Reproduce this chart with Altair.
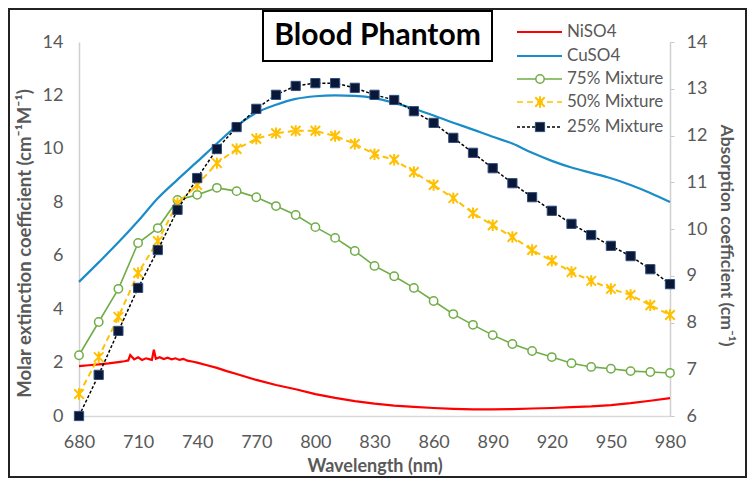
import altair as alt
import pandas as pd

# ---------------- data ----------------
wl = list(range(680, 990, 10))

ni_wl = [680, 685, 690, 695, 700, 703, 705, 706, 708, 710, 712, 714, 716, 717, 718, 719,
         721, 723, 725, 727, 729, 731, 733, 735, 738, 740, 745, 750, 755, 760, 770, 780,
         790, 800, 810, 820, 830, 840, 850, 860, 870, 880, 890, 900, 910, 920, 930, 940,
         950, 960, 970, 980]
ni_val = [1.87, 1.90, 1.93, 1.97, 2.02, 2.05, 2.08, 2.28, 2.12, 2.20, 2.10, 2.16, 2.12, 2.10,
          2.48, 2.14, 2.20, 2.13, 2.18, 2.12, 2.16, 2.10, 2.14, 2.07, 2.03, 2.00, 1.90, 1.80,
          1.68, 1.57, 1.35, 1.16, 1.00, 0.82, 0.68, 0.56, 0.46, 0.39, 0.34, 0.30, 0.27, 0.25,
          0.25, 0.26, 0.28, 0.30, 0.33, 0.36, 0.41, 0.48, 0.57, 0.67]

cu_val = [5.02, 5.75, 6.50, 7.30, 8.15, 8.85, 9.52, 10.20, 10.85, 11.35, 11.65, 11.87, 11.97,
          12.00, 11.98, 11.90, 11.72, 11.50, 11.25, 10.98, 10.72, 10.45, 10.20, 9.85, 9.55,
          9.30, 9.10, 8.90, 8.65, 8.35, 8.01]

m75 = [7.30, 8.01, 8.72, 9.70, 10.02, 10.62, 10.73, 10.88, 10.81, 10.68, 10.49, 10.30,
       10.04, 9.81, 9.53, 9.21, 8.99, 8.74, 8.46, 8.18, 7.95, 7.73,
       7.54, 7.39, 7.26, 7.13, 7.05, 7.01, 6.96, 6.94, 6.92]
m50 = [6.47, 7.26, 8.12, 9.06, 9.74, 10.55, 10.94, 11.41, 11.71, 11.93, 12.05, 12.10,
       12.10, 11.99, 11.82, 11.60, 11.48, 11.22, 10.94, 10.66, 10.34, 10.08,
       9.83, 9.55, 9.32, 9.08, 8.89, 8.72, 8.59, 8.37, 8.16]
m25 = [6.00, 6.88, 7.82, 8.74, 9.55, 10.41, 11.09, 11.71, 12.18, 12.57, 12.87, 13.06,
       13.12, 13.12, 13.02, 12.87, 12.76, 12.52, 12.27, 11.95, 11.63, 11.30,
       10.98, 10.68, 10.39, 10.11, 9.87, 9.64, 9.42, 9.14, 8.82]

x_ticks = [680, 710, 740, 770, 800, 830, 860, 890, 920, 950, 980]
left_ticks = [0, 2, 4, 6, 8, 10, 12, 14]
right_ticks = [6, 7, 8, 9, 10, 11, 12, 13, 14]

series_names = ["NiSO4", "CuSO4", "75% Mixture", "50% Mixture", "25% Mixture"]
title_text = "Blood Phantom"

# ---------------- styling ----------------
FONT = "Lato"
GRAY = "#595959"
RED = "#ff0000"
BLUE = "#1a8cc8"
GREEN = "#70ad47"
YELLOW = "#ffc000"
NAVY = "#0b1736"
STAR = "M-1,-1L1,1M-1,1L1,-1M0,-1.2L0,1.2"

W, H = 591, 374

ni_df = pd.DataFrame({"wl": ni_wl, "v": ni_val})
cu_df = pd.DataFrame({"wl": wl, "v": cu_val})
mix_df = pd.DataFrame({"wl": wl, "m75": m75, "m50": m50, "m25": m25})
one = pd.DataFrame({"a": [0]})

xenc = alt.X("wl:Q",
             scale=alt.Scale(domain=[680, 980], nice=False, zero=False),
             axis=alt.Axis(values=x_ticks, grid=False, ticks=False, tickSize=0,
                           labelFlush=False, labelOverlap=False,
                           domainColor="#d9d9d9", domainWidth=1.5,
                           labelColor=GRAY, labelFontSize=18, labelFont=FONT,
                           labelPadding=17,
                           title="Wavelength (nm)", titleFont=FONT, titleFontSize=18,
                           titleFontWeight="bold", titleColor=GRAY, titlePadding=6))

yleft = alt.Y("v:Q",
              scale=alt.Scale(domain=[0, 14], nice=False),
              axis=alt.Axis(values=left_ticks, grid=False, ticks=False, tickSize=0,
                            labelFlush=False, labelOverlap=False,
                            domainColor="#d0d0d0", domainWidth=1.5,
                            labelColor=GRAY, labelFontSize=18, labelFont=FONT,
                            labelPadding=16,
                            title="Molar extinction coefficient (cm⁻¹M⁻¹)",
                            titleFont=FONT, titleFontSize=18.5, titleFontWeight="bold",
                            titleColor=GRAY, titlePadding=8, titleY=201))

ni_line = alt.Chart(ni_df).mark_line(color=RED, strokeWidth=2.2).encode(x=xenc, y=yleft)
cu_line = alt.Chart(cu_df).mark_line(color=BLUE, strokeWidth=2.2, interpolate="monotone").encode(x=xenc, y=yleft)

# decorations: outer frame, title box, legend
frame = alt.Chart(one).mark_rect(fill=None, stroke="#222222", strokeWidth=2).encode(
    x=alt.value(-70), x2=alt.value(667), y=alt.value(-33), y2=alt.value(435))
tbox = alt.Chart(one).mark_rect(fill="white", stroke="black", strokeWidth=2).encode(
    x=alt.value(184), x2=alt.value(413), y=alt.value(-31), y2=alt.value(19))
ttext = alt.Chart(one).mark_text(font=FONT, fontSize=30, fontWeight="bold", color="black",
                                 align="center", baseline="middle").encode(
    x=alt.value(298.5), y=alt.value(-6), text=alt.value(title_text))

leg_y = [-10, 14, 37, 60, 85]
leg_col = [RED, BLUE, GREEN, YELLOW, "black"]
leg_dash = [[1, 0], [1, 0], [1, 0], [6, 4], [3, 2]]
legend_layers = []
for i, name in enumerate(series_names):
    legend_layers.append(alt.Chart(one).mark_rule(color=leg_col[i], strokeWidth=2 if i < 2 else 1.6,
                                                  strokeDash=leg_dash[i]).encode(
        x=alt.value(438), x2=alt.value(483), y=alt.value(leg_y[i])))
    legend_layers.append(alt.Chart(one).mark_text(font=FONT, fontSize=17, color=GRAY,
                                                  align="left", baseline="middle").encode(
        x=alt.value(488), y=alt.value(leg_y[i]), text=alt.value(name)))
legend_layers.append(alt.Chart(one).mark_point(shape="circle", filled=True, fill="white",
                                               stroke=GREEN, strokeWidth=1.5, size=70, opacity=1).encode(
    x=alt.value(461), y=alt.value(leg_y[2])))
legend_layers.append(alt.Chart(one).mark_point(shape=STAR, filled=False, stroke=YELLOW,
                                               strokeWidth=2, size=90, opacity=1).encode(
    x=alt.value(461), y=alt.value(leg_y[3])))
legend_layers.append(alt.Chart(one).mark_point(shape="square", filled=True, fill=NAVY,
                                               stroke="#2f4f80", strokeWidth=1, size=85, opacity=1).encode(
    x=alt.value(461), y=alt.value(leg_y[4])))

left = alt.layer(ni_line, cu_line, frame, tbox, ttext, *legend_layers)

# right axis: absorption coefficient
def yright(field):
    ax = alt.Axis(values=right_ticks, grid=False, ticks=True, tickSize=4, tickColor="#c8c8c8",
                  labelFlush=False, labelOverlap=False,
                  domainColor="#d0d0d0", domainWidth=1.5, orient="right",
                  labelColor=GRAY, labelFontSize=18, labelFont=FONT, labelPadding=12,
                  title="Absorption coefficient (cm⁻¹)", titleFont=FONT, titleFontSize=17.5,
                  titleFontWeight="bold", titleColor=GRAY, titlePadding=10, titleY=193)
    return alt.Y(f"{field}:Q", scale=alt.Scale(domain=[6, 14], nice=False, zero=False), axis=ax)

base = alt.Chart(mix_df)
g_line = base.mark_line(color=GREEN, strokeWidth=1.6).encode(x=xenc, y=yright("m75"))
g_pts = base.mark_point(shape="circle", filled=True, fill="white", stroke=GREEN, strokeWidth=1.5,
                        size=70, opacity=1).encode(x=xenc, y=yright("m75"))
y_line = base.mark_line(color=YELLOW, strokeWidth=2, strokeDash=[6, 4]).encode(x=xenc, y=yright("m50"))
y_pts = base.mark_point(shape=STAR, filled=False, stroke=YELLOW, strokeWidth=2, size=90,
                        opacity=1).encode(x=xenc, y=yright("m50"))
k_line = base.mark_line(color="black", strokeWidth=1.5, strokeDash=[3, 2]).encode(x=xenc, y=yright("m25"))
k_pts = base.mark_point(shape="square", filled=True, fill=NAVY, stroke="#2f4f80", strokeWidth=1,
                        size=85, opacity=1).encode(x=xenc, y=yright("m25"))

right = alt.layer(g_line, g_pts, y_line, y_pts, k_line, k_pts)

chart = alt.layer(left, right).resolve_scale(y="independent").properties(
    width=W, height=H,
    padding={"left": 71, "top": 34, "right": 77, "bottom": 62},
    autosize=alt.AutoSizeParams(type="none"),
    background="white",
).configure_view(stroke=None)

chart.save("out.html", embed_options={"renderer": "svg", "actions": False})
